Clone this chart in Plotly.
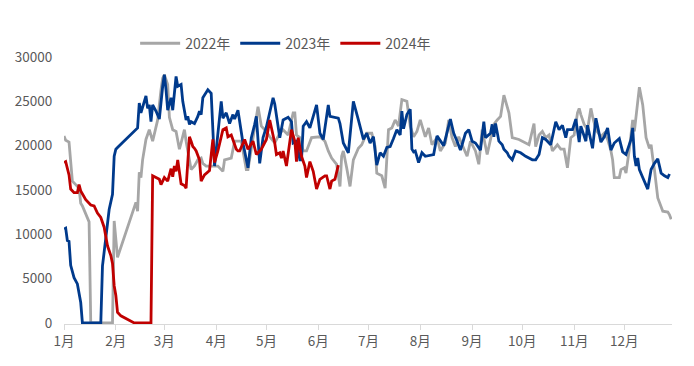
import pandas as pd
import plotly.graph_objects as go

# Day offsets from 1 Jan and values
days_2022 = [0, 1, 3, 5, 7, 9, 10, 11, 15, 16, 29, 30, 32, 43, 44, 45, 46, 47, 49, 51, 53, 54, 56, 58,
             59, 60, 62, 63, 65, 67, 69, 70, 72, 73, 76, 78, 80, 82, 83, 85, 89, 92, 95, 96, 100, 102,
             106, 109, 110, 113, 116, 118, 121, 123, 126, 129, 131, 134, 137, 138, 139, 141, 143, 145,
             148, 153, 156, 158, 160, 163, 165, 166, 167, 169, 171, 173, 176, 178, 181, 184, 186, 187,
             190, 192, 193, 194, 196, 198, 200, 202, 205, 207, 209, 211, 213, 216, 218, 220, 223, 225,
             228, 230, 232, 234, 236, 239, 241, 243, 246, 248, 250, 253, 255, 257, 259, 261, 263, 265,
             266, 268, 272, 278, 281, 282, 284, 286, 288, 290, 292, 295, 297, 299, 301, 303, 305, 307,
             308, 309, 311, 313, 315, 316, 318, 321, 323, 325, 327, 328, 329, 332, 333, 335, 336, 338,
             340, 341, 344, 346, 348, 350, 351, 352, 353, 355, 356, 358, 361, 362, 363]
vals_2022 = [21100, 20600, 20400, 16000, 15600, 15200, 13500, 13200, 11400, 0, 0, 11500, 7400, 13600,
             12600, 17000, 16400, 18400, 20700, 21800, 20500, 21200, 22900, 26300, 27600, 28000, 26900,
             23200, 21800, 21600, 19600, 20300, 21800, 20500, 17300, 17700, 18400, 18600, 18000, 17700,
             17700, 17700, 17100, 18400, 18600, 20500, 20500, 17300, 17300, 21000, 24400, 22200, 21600,
             21000, 20300, 21400, 21800, 21200, 23700, 23700, 21200, 20900, 19400, 19400, 20900, 21000,
             20500, 19400, 18600, 17900, 15400, 18800, 19400, 17500, 15400, 18400, 19700, 20100, 21400,
             21400, 19900, 16900, 16600, 15200, 19200, 21800, 22000, 22900, 22200, 25200, 25000, 22200,
             21000, 21600, 22900, 21000, 22000, 20100, 20900, 19400, 20300, 22900, 20900, 19900, 21000,
             19600, 18800, 20500, 19400, 17900, 21800, 19000, 20700, 22400, 22900, 23300, 25700, 24200,
             23700, 20900, 20700, 20100, 22500, 19900, 21200, 21600, 20900, 21200, 19400, 20100, 19600,
             19600, 17500, 20900, 21200, 23700, 24200, 23500, 22400, 21800, 24200, 23300, 21800, 21000,
             21400, 20700, 19400, 18400, 16400, 16400, 17300, 17500, 16900, 19600, 22900, 21600, 26600,
             24600, 20900, 19700, 20100, 18600, 17300, 14100, 13600, 12600, 12500, 12200, 11700]

days_2023 = [0, 1, 2, 3, 4, 5, 6, 8, 10, 11, 22, 23, 25, 27, 29, 30, 31, 32, 44, 45, 46, 47, 49, 50, 51,
             52, 53, 55, 57, 59, 60, 61, 62, 64, 65, 67, 68, 70, 71, 73, 74, 75, 76, 78, 80, 81, 82, 83,
             86, 88, 89, 90, 94, 95, 97, 99, 101, 102, 104, 107, 110, 111, 112, 114, 115, 117, 119, 121,
             125, 126, 129, 131, 134, 136, 137, 139, 141, 142, 143, 145, 147, 151, 153, 155, 158, 159,
             164, 165, 167, 170, 173, 176, 178, 179, 181, 183, 185, 187, 189, 191, 193, 195, 197, 199,
             201, 202, 203, 205, 207, 208, 209, 210, 212, 214, 216, 221, 223, 225, 227, 231, 233, 235,
             237, 238, 240, 242, 244, 246, 249, 251, 252, 255, 256, 257, 258, 260, 262, 263, 265, 266,
             268, 270, 273, 276, 280, 282, 284, 286, 288, 291, 294, 296, 298, 300, 301, 304, 306, 308,
             309, 312, 313, 316, 318, 321, 323, 325, 327, 329, 332, 334, 336, 339, 340, 341, 342, 343,
             344, 346, 349, 351, 353, 355, 357, 359, 361, 362]
vals_2023 = [10600, 10700, 9300, 9200, 6500, 5700, 5100, 4400, 2300, 0, 0, 6400, 10000, 12800, 14500,
             18800, 19600, 19800, 22000, 24800, 23700, 24400, 25600, 24200, 24600, 22700, 24600, 23900,
             23000, 26700, 28000, 26300, 24000, 25400, 24000, 27800, 26700, 26900, 25000, 22900, 23300,
             22400, 22700, 22500, 23300, 23900, 23500, 25400, 26300, 25900, 21000, 17700, 25000, 23100,
             23700, 22500, 23500, 23000, 24000, 20300, 17500, 19200, 20900, 22400, 23300, 18000, 20900,
             22100, 25400, 24700, 20900, 22900, 23200, 22700, 20300, 20500, 18400, 18400, 22200, 22700,
             22000, 24600, 21400, 20700, 24600, 23300, 23100, 22500, 20300, 19200, 25000, 22900, 21600,
             20700, 21400, 20300, 21000, 17800, 19200, 18800, 19800, 19900, 20800, 21800, 21200, 23900,
             21900, 23500, 24100, 19600, 19300, 19400, 18100, 19200, 18800, 19000, 21100, 20500, 20000,
             23000, 21400, 20500, 19500, 20100, 21400, 21800, 20500, 20300, 19500, 22700, 20900, 21400,
             22400, 21000, 22500, 20500, 20100, 19600, 19200, 18800, 18400, 19400, 19200, 18800, 18400,
             18400, 19000, 20900, 20700, 20100, 22700, 21800, 22300, 20900, 21800, 21800, 23000, 20400,
             22200, 20500, 22300, 19700, 23100, 20400, 21000, 22000, 19500, 20300, 20800, 19300, 19000,
             20700, 22000, 18800, 17700, 18600, 17300, 16400, 15100, 17300, 18000, 18500, 16900, 16600,
             16400, 16800]

days_2024 = [0, 1, 3, 4, 6, 8, 9, 10, 13, 16, 18, 20, 22, 24, 26, 28, 29, 30, 31, 32, 34, 42, 52, 53,
             55, 57, 58, 60, 62, 63, 64, 65, 66, 67, 68, 70, 72, 73, 75, 76, 77, 78, 79, 81, 82, 84, 87,
             89, 90, 92, 93, 95, 97, 98, 100, 101, 103, 104, 105, 108, 110, 113, 115, 118, 121, 123,
             126, 127, 129, 130, 131, 133, 136, 138, 139, 140, 142, 144, 145, 147, 149, 151, 153, 156,
             157, 159, 160, 162, 164]
vals_2024 = [18100, 18200, 16700, 15100, 14700, 14700, 15600, 14900, 13900, 13300, 13200, 12400, 11900,
             10800, 8700, 7600, 6700, 4200, 3100, 1200, 800, 0, 0, 16600, 16400, 16200, 15600, 16400,
             16000, 16800, 17400, 16500, 17700, 17100, 18400, 15700, 15500, 15200, 21000, 20500, 19900,
             19700, 19400, 18400, 16000, 16700, 17200, 20700, 18100, 19400, 20100, 21800, 22000, 21000,
             21200, 20700, 19600, 19400, 19400, 20700, 19600, 20500, 19000, 19600, 20700, 22900, 20300,
             19000, 19200, 18600, 19400, 17700, 21800, 20500, 18200, 20900, 18800, 17700, 16400, 18200,
             17100, 15100, 16200, 16600, 16600, 15100, 16000, 16200, 17800]

y_ticks = [0, 5000, 10000, 15000, 20000, 25000, 30000]
y_tick_labels = ["0", "5000", "10000", "15000", "20000", "25000", "30000"]

series = [
    ("2022年", days_2022, vals_2022, "#A6A6A6"),
    ("2023年", days_2023, vals_2023, "#003A8C"),
    ("2024年", days_2024, vals_2024, "#C00000"),
]

base = pd.Timestamp("2024-01-01")
fig = go.Figure()
for name, d, v, color in series:
    x = base + pd.to_timedelta(d, unit="D")
    fig.add_trace(go.Scatter(x=x, y=v, name=name, mode="lines",
                             line=dict(color=color, width=2.8)))

font_family = "Microsoft YaHei, Noto Sans CJK SC, sans-serif"
fig.update_layout(
    width=694, height=366,
    margin=dict(l=64, r=22, t=57, b=42),
    paper_bgcolor="white", plot_bgcolor="white",
    font=dict(family=font_family, size=13, color="#595959"),
    showlegend=True,
    legend=dict(orientation="h", x=0.117, xanchor="left", y=1.05, yanchor="middle",
                itemwidth=40,
                font=dict(size=14, color="#595959"), bgcolor="rgba(0,0,0,0)"),
)
fig.update_xaxes(
    type="date", range=["2024-01-01", "2024-12-29 12:00"],
    dtick="M1", tick0="2024-01-01", tickformat="%-m月",
    showline=True, linecolor="#D9D9D9", linewidth=1.3,
    ticks="outside", ticklen=5, tickcolor="#D9D9D9",
    showgrid=False, zeroline=False,
    tickfont=dict(size=13.5, color="#595959"),
)
fig.update_yaxes(
    range=[-120, 30000], tickvals=y_ticks, ticktext=y_tick_labels,
    showline=False, showgrid=False, zeroline=False,
    ticks="outside", ticklen=8, tickcolor="rgba(0,0,0,0)",
    tickfont=dict(size=13.5, color="#595959"),
)
fig.write_html("out.html", config={"displayModeBar": False},
               post_script="document.body.style.margin='0';")
